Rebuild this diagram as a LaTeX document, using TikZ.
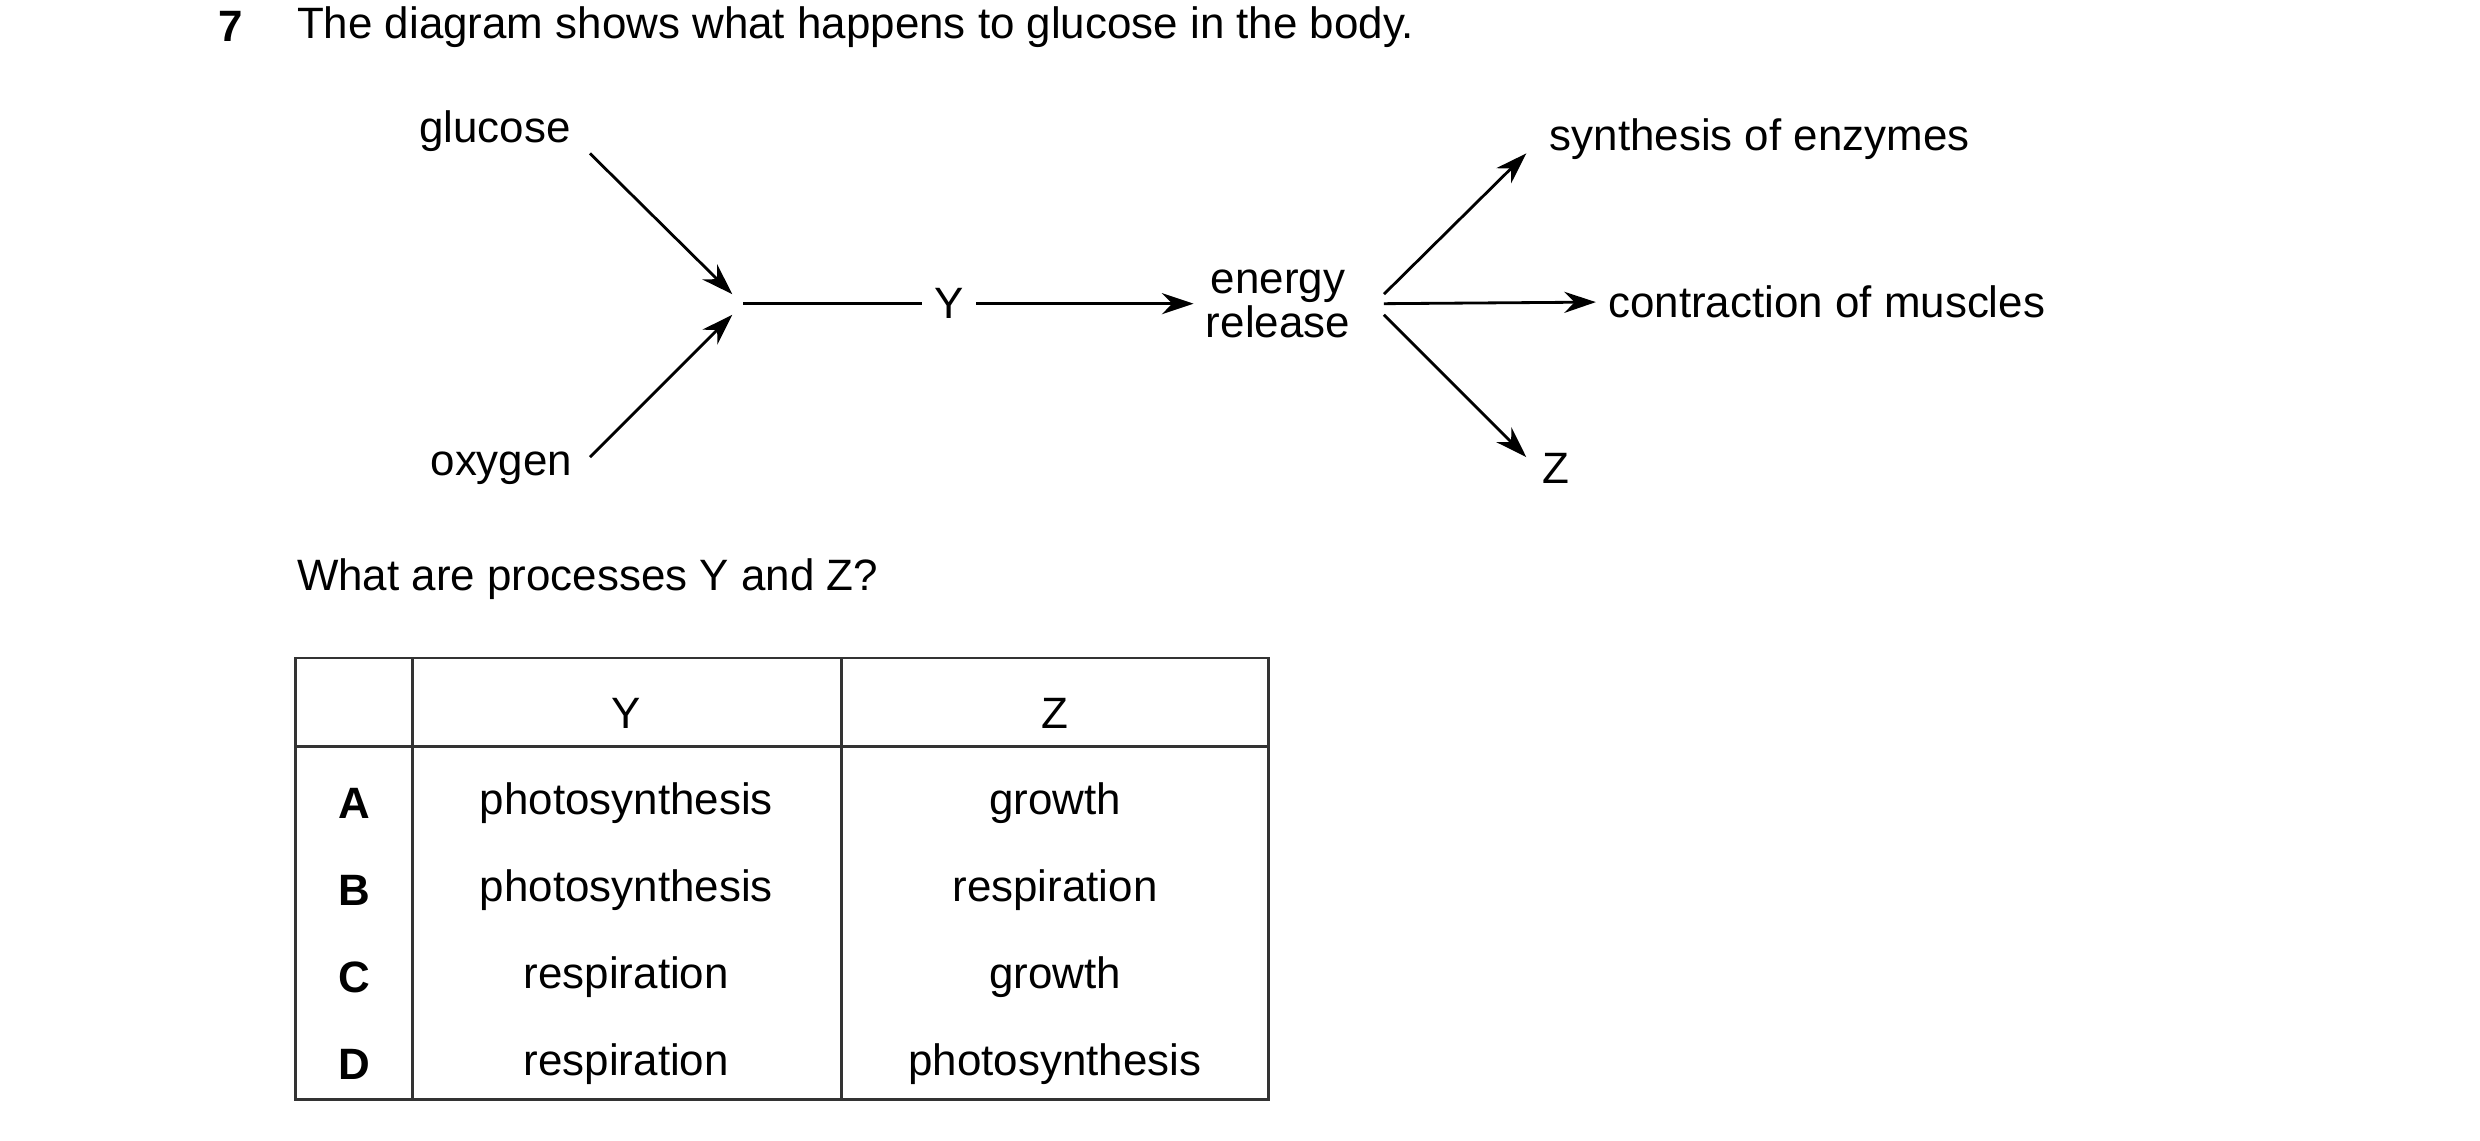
\documentclass[tikz,border=0pt]{standalone}
\usepackage{fontspec}
\setmainfont{Liberation Sans}
\usetikzlibrary{arrows.meta}
\begin{document}
\begin{tikzpicture}[x=0.01582cm,y=-0.01582cm,
  every node/.style={font=\fontsize{12.5}{14}\selectfont},
  flow/.style={thick,-{Stealth[length=9pt,width=6pt]}},
  cell/.style={anchor=center},
  tab/.style={thick,black!80}]
\useasboundingbox (0,0) rectangle (1568,721);
%%% question heading
\node[anchor=west,font=\fontsize{12.5}{14}\bfseries] (num) at (130,17) {7};
\node[anchor=west] (title) at (180,17) {The diagram shows what happens to glucose in the body.};
%%% the scheme
\node (glucose) at (313,83) {glucose};
\node (oxygen) at (317,296) {oxygen};
\coordinate (meet) at (466,192);
\node (Y) at (600,192) {Y};
\node[align=center,font=\fontsize{12.5}{12.5}\selectfont] (energy) at (808,192) {energy\\release};
\node[anchor=west] (enzymes) at (972,88) {synthesis of enzymes};
\node[anchor=west] (muscles) at (1009,191) {contraction of muscles};
\node (Z) at (984,296) {Z};
\draw[flow] (373,97) -- (463,186);
\draw[flow] (373,289) -- (463,199);
\draw[thick] (470,192) -- (Y.west);
\draw[flow] (Y.east) -- (energy.west);
\draw[flow] (875,186) -- (965,97);
\draw[flow] (875,192) -- (muscles.west);
\draw[flow] (875,199) -- (965,289);
%%% question
\node[anchor=west] (ask) at (180,366) {What are processes Y and Z?};
%%% table
\draw[tab] (187,416) rectangle (802,695);
\draw[tab] (187,472) -- (802,472);
\draw[tab] (261,416) -- (261,695);
\draw[tab] (532,416) -- (532,695);
\node (hY) at (396,451) {Y};
\node (hZ) at (667,451) {Z};
\foreach \l/\y/\z [count=\i] in {A/photosynthesis/growth,B/photosynthesis/respiration,C/respiration/growth,D/respiration/photosynthesis}{
  \node[font=\fontsize{12.5}{14}\bfseries] (row\i) at (224,453+55*\i) {\l};
  \node (y\i) at (396,453+55*\i) {\y};
  \node (z\i) at (667,453+55*\i) {\z};
}
\end{tikzpicture}
\end{document}
